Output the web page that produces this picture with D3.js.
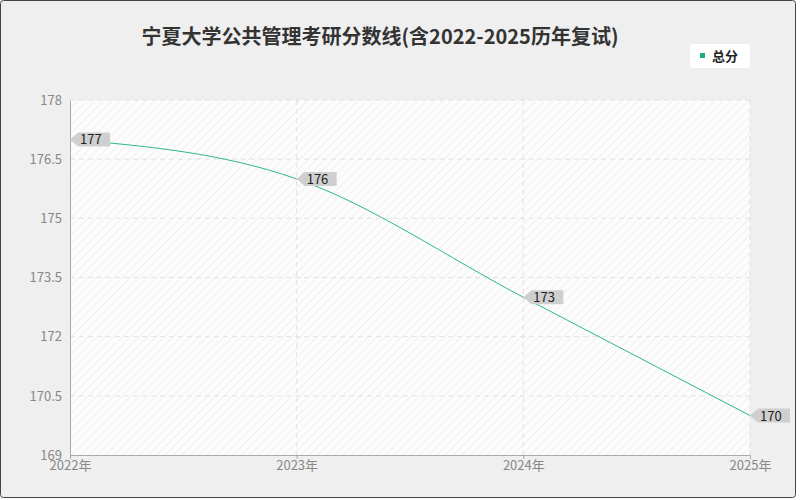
<!DOCTYPE html><html><head><meta charset="utf-8"><script src="https://cdn.jsdelivr.net/npm/d3@7"></script>
<style>body{margin:0;background:#fff}</style></head><body><svg id="c" width="800" height="500"></svg><script>
const years=["2022年","2023年","2024年","2025年"];
const values=[177,176,173,170];
const yTicks=[169,170.5,172,173.5,175,176.5,178];
const svg=d3.select("#c");
const F="'Noto Sans CJK SC','Noto Sans',sans-serif";
svg.append("rect").attr("x",0.5).attr("y",0.5).attr("width",795).attr("height",497).attr("fill","#efefef").attr("stroke","#444").attr("rx",3);
const defs=svg.append("defs");
const p=defs.append("pattern").attr("id","h").attr("width",6).attr("height",6).attr("patternUnits","userSpaceOnUse").attr("patternTransform","rotate(45)");
p.append("rect").attr("width",6).attr("height",6).attr("fill","#fcfcfc");
p.append("line").attr("x1",0).attr("y1",0).attr("x2",0).attr("y2",6).attr("stroke","#f0f0f0").attr("stroke-width",2);
const x=d3.scalePoint().domain(years).range([70,750]);
const y=d3.scaleLinear().domain([169,178]).range([455,100]);
svg.append("rect").attr("x",70).attr("y",100).attr("width",680).attr("height",355).attr("fill","url(#h)");
yTicks.forEach(t=>{if(t>169)svg.append("line").attr("x1",70).attr("x2",750).attr("y1",y(t)).attr("y2",y(t)).attr("stroke","#e2e2e2").attr("stroke-dasharray","5,4");});
years.forEach((d,i)=>{if(i>0)svg.append("line").attr("x1",x(d)).attr("x2",x(d)).attr("y1",100).attr("y2",455).attr("stroke","#e2e2e2").attr("stroke-dasharray","5,4");});
const ya=svg.append("g").attr("transform","translate(70,0)").call(d3.axisLeft(y).tickValues(yTicks).tickSize(0).tickPadding(8).tickFormat(d=>d));
ya.select(".domain").attr("stroke","#aaa");
ya.selectAll("text").attr("fill","#888").attr("font-size",13).attr("font-family",F);
const xa=svg.append("g").attr("transform","translate(0,455)").call(d3.axisBottom(x).tickSize(4).tickPadding(2));
xa.select(".domain").attr("stroke","#aaa");xa.selectAll("line").attr("stroke","#aaa");
xa.selectAll("text").attr("fill","#888").attr("font-size",13).attr("font-family",F);
svg.append("path").datum(values).attr("fill","none").attr("stroke","#2eb88a").attr("stroke-width",1)
 .attr("d",d3.line().x((d,i)=>x(years[i])).y(d=>y(d)).curve(d3.curveMonotoneX));
values.forEach((v,i)=>{const px=x(years[i]),py=y(v);const g=svg.append("g").attr("transform",`translate(${px},${py})`);
 g.append("path").attr("d","M0,0 L8,-7 H40 V7 H8 Z").attr("fill","#cfcfcf");
 g.append("text").attr("x",10).attr("y",5).attr("font-size",13).attr("font-family",F).attr("fill","#222").text(v);});
svg.append("text").attr("x",380).attr("y",44).attr("text-anchor","middle").attr("font-size",20).attr("font-weight","bold").attr("font-family",F).attr("fill","#333").text("宁夏大学公共管理考研分数线(含2022-2025历年复试)");
svg.append("rect").attr("x",690).attr("y",44).attr("width",60).attr("height",24).attr("rx",4).attr("fill","#fff");
svg.append("rect").attr("x",700).attr("y",53).attr("width",5).attr("height",5).attr("fill","#1aaf7e");
svg.append("text").attr("x",712).attr("y",61).attr("font-size",13).attr("font-weight","bold").attr("font-family",F).attr("fill","#222").text("总分");
</script></body></html>
